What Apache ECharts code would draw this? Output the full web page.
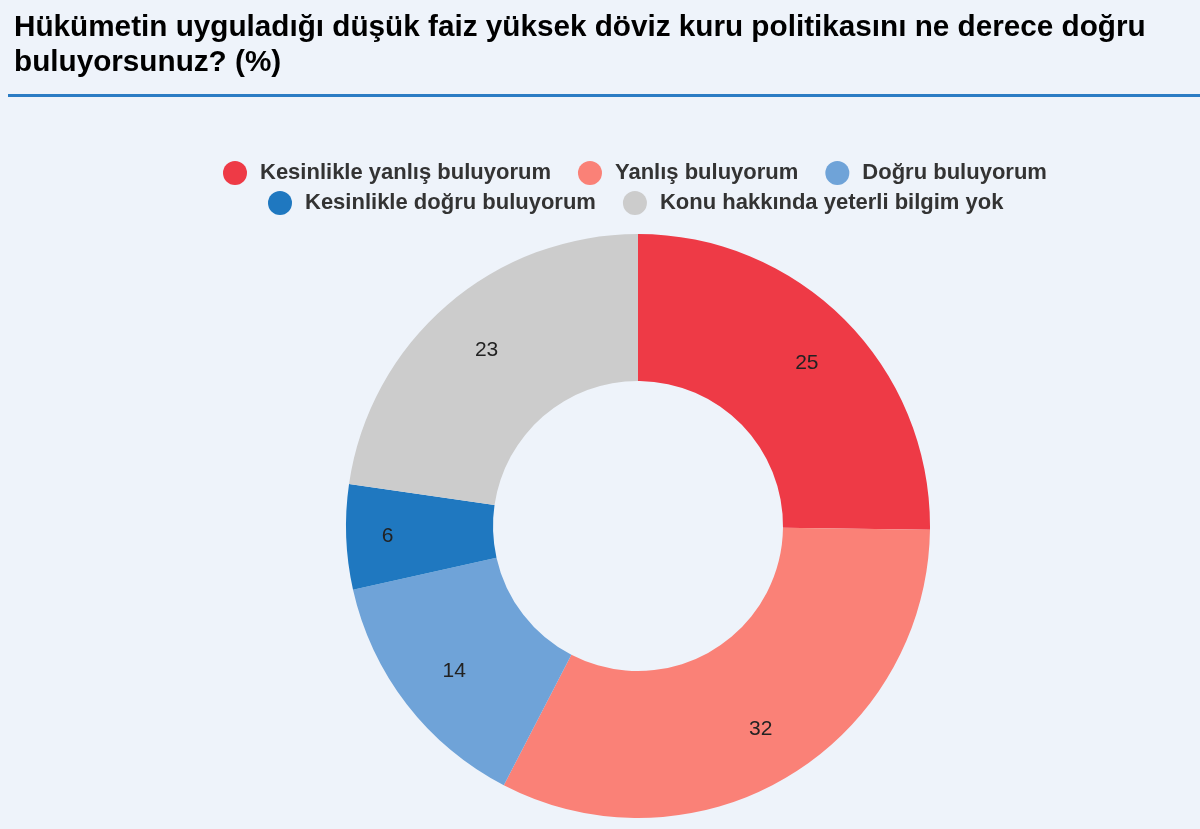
<!DOCTYPE html>
<html><head><meta charset="utf-8">
<script src="https://cdn.jsdelivr.net/npm/echarts@6/dist/echarts.min.js"></script>
<style>html,body{margin:0;padding:0;background:#eef3fa;}#c{width:1200px;height:829px;}</style>
</head><body><div id="c"></div>
<script>
const titleText = 'Hükümetin uyguladığı düşük faiz yüksek döviz kuru politikasını ne derece doğru\nbuluyorsunuz? (%)';
const categories = ['Kesinlikle yanlış buluyorum','Yanlış buluyorum','Doğru buluyorum','Kesinlikle doğru buluyorum','Konu hakkında yeterli bilgim yok'];
const values = [25.2, 32.4, 13.9, 5.8, 22.7];
const colors = ['#ee3a46','#fa8177','#6fa3d8','#1f78c0','#cccccc'];

const chart = echarts.init(document.getElementById('c'));
const legendText = {fontSize: 22, color: '#333', fontWeight: 'bold', fontFamily: '"Liberation Sans", Arial, sans-serif'};
const legendBase = {icon: 'circle', itemWidth: 40, itemHeight: 24, itemGap: 27, textStyle: legendText, selectedMode: false};
chart.setOption({
  backgroundColor: '#eef3fa',
  title: {
    text: titleText, left: 9, top: 5,
    textStyle: {fontSize: 29.7, fontWeight: 'bold', color: '#000', fontFamily: '"Liberation Sans", Arial, sans-serif', lineHeight: 35}
  },
  graphic: [{type: 'rect', shape: {x: 8, y: 94, width: 1192, height: 3}, style: {fill: '#2b7cc4'}}],
  legend: [
    Object.assign({data: categories.slice(0,3), top: 156, left: 218}, legendBase),
    Object.assign({data: categories.slice(3), top: 186, left: 263}, legendBase)
  ],
  series: [{
    type: 'pie', center: [638, 526], radius: [145, 292], startAngle: 90, clockwise: true,
    label: {show: false}, labelLine: {show: false},
    emphasis: {disabled: true},
    data: categories.map((n, i) => ({name: n, value: values[i], itemStyle: {color: colors[i]}}))
  }, {
    type: 'pie', center: [638, 526], radius: [145, 318], startAngle: 90, clockwise: true,
    silent: true, avoidLabelOverlap: false, legendHoverLink: false,
    itemStyle: {color: 'rgba(0,0,0,0)'},
    label: {position: 'inside', formatter: p => Math.round(p.value), fontSize: 21, color: '#222', fontFamily: 'Arial, sans-serif'},
    labelLine: {show: false},
    emphasis: {disabled: true},
    data: categories.map((n, i) => ({name: n + ' ', value: values[i],
      label: values[i] < 10 ? {offset: [-16, 1]} : {offset: [2, 2]}}))
  }]
});
</script></body></html>
